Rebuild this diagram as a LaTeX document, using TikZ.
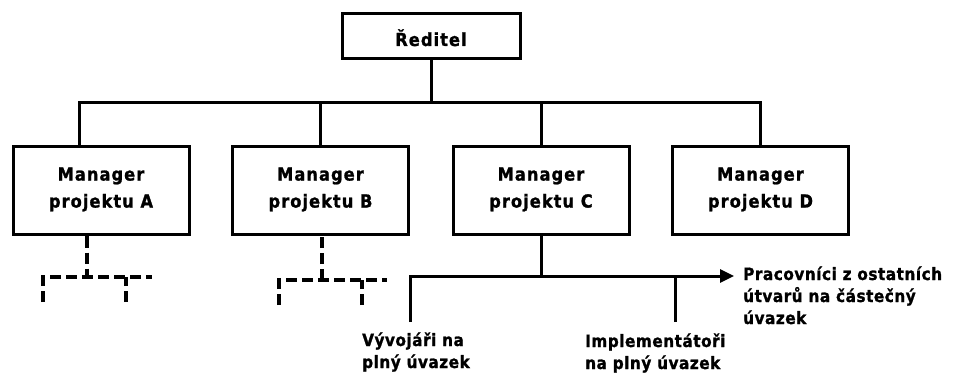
\documentclass[tikz,border=0pt]{standalone}
\usepackage{fontspec}
\setmainfont{DejaVu Sans}
\newfontfamily\boxfont[FakeBold=1.2,LetterSpace=6]{DejaVu Sans Condensed Bold}
\newfontfamily\notefont[FakeBold=1.2,LetterSpace=3]{DejaVu Sans Condensed Bold}
\usetikzlibrary{arrows.meta}
\begin{document}
\begin{tikzpicture}[x=1pt,y=-1pt,
  orgbox/.style={draw=black, line width=3pt, fill=white, inner sep=0pt,
    align=center, font=\boxfont\fontsize{18}{27}\selectfont},
  mgrbox/.style={orgbox, minimum width=176pt, minimum height=88pt, text depth=7pt},
  link/.style={draw=black, line width=3pt},
  dlink/.style={draw=black, line width=4pt, dash pattern=on 11pt off 5pt},
  note/.style={inner sep=0pt, align=left, anchor=base west,
    font=\notefont\fontsize{17}{22}\selectfont}]

% canvas
\fill[white] (0,0) rectangle (953,374);
\useasboundingbox (0,0) rectangle (953,374);

% boxes
\node[orgbox, minimum width=178pt, minimum height=45pt, text height=19pt, text depth=0pt]
  (dir) at (431,36.5) {Ředitel};
\node[mgrbox] (mA) at (101,191)   {Manager\\projektu A};
\node[mgrbox] (mB) at (320.5,191) {Manager\\projektu B};
\node[mgrbox] (mC) at (541,191)   {Manager\\projektu C};
\node[mgrbox] (mD) at (760.5,191) {Manager\\projektu D};

% director to managers
\coordinate (busL) at (79,103);
\draw[link] (dir.south) -- (dir.south |- busL);
\draw[link] (mA.north -| busL) -- (busL) -- (busL -| mD.north) -- (mD.north);
\draw[link] (mB.north) -- (mB.north |- busL);
\draw[link] (mC.north) -- (mC.north |- busL);

% dashed sub-branches of A
\coordinate (aJ) at (87,277);
\coordinate (aLeft) at (43,302);
\coordinate (aRight) at (152,277);
\coordinate (aLeg) at (126,302);
\draw[dlink] (mA.south -| aJ) -- (aJ);
\draw[dlink] (aLeft) -- (aLeft |- aJ) -- (aRight);
\draw[dlink] (aLeg) -- (aLeg |- aJ);

% dashed sub-branches of B
\coordinate (bJ) at (322,280);
\coordinate (bLeft) at (279,305);
\coordinate (bRight) at (387,280);
\coordinate (bLeg) at (362,305);
\draw[dlink] (bJ) -- (mB.south -| bJ);
\draw[dlink] (bLeft) -- (bLeft |- bJ) -- (bRight);
\draw[dlink] (bLeg) -- (bLeg |- bJ);

% staff of project C
\coordinate (devEnd) at (410,322);
\coordinate (implEnd) at (675,322);
\coordinate (otherTip) at (734,276);
\draw[link] (mC.south) -- (mC.south |- otherTip);
\draw[link, -{Triangle[length=14pt,width=13pt]}] (devEnd) |- (otherTip);
\draw[link] (implEnd) -- (implEnd |- otherTip);

\node[note] (dev) at (362,368) {Vývojáři na\\plný úvazek};
\node[note] (impl) at (585,369) {Implementátoři\\na plný úvazek};
\node[note] (other) at (743,324) {Pracovníci z ostatních\\útvarů na částečný\\úvazek};

\end{tikzpicture}
\end{document}
